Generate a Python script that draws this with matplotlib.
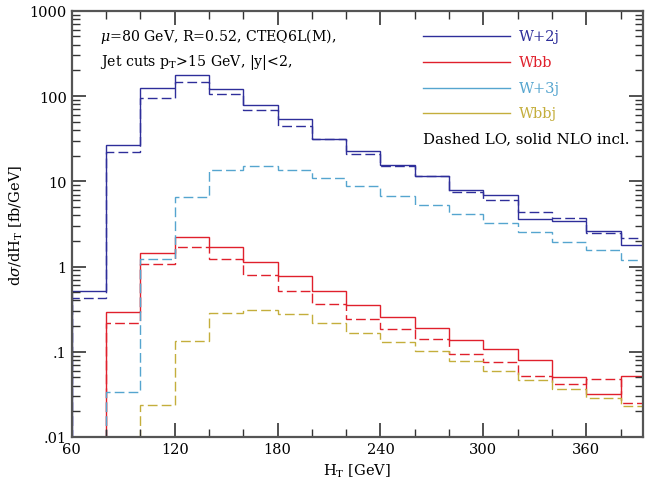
import numpy as np
import matplotlib
matplotlib.use('Agg')
import matplotlib.pyplot as plt
from matplotlib.ticker import FixedLocator, FixedFormatter, MultipleLocator, LogLocator, NullFormatter

plt.rcParams['font.family'] = ['DejaVu Serif']
plt.rcParams['mathtext.fontset'] = 'dejavuserif'

# bin edges (GeV)
edges_w2j = np.arange(60, 401, 20)
edges_wbb = np.arange(80, 401, 20)
edges_w3j = np.arange(80, 401, 20)
edges_wbbj = np.arange(100, 401, 20)

# W+2j  NLO (solid) / LO (dashed)
w2j_nlo = [0.52, 27, 125, 175, 122, 79, 54, 31, 22.7, 15.7, 11.5, 7.9, 7.0, 3.6, 3.4, 2.6, 1.8]
w2j_lo = [0.43, 22, 95, 147, 105, 69, 45, 31, 21, 15.3, 11.6, 7.5, 6.1, 4.4, 3.7, 2.5, 2.15]
# Wbb
wbb_nlo = [0.29, 1.45, 2.2, 1.70, 1.13, 0.77, 0.52, 0.357, 0.256, 0.19, 0.136, 0.109, 0.081, 0.051, 0.032, 0.052]
wbb_lo = [0.22, 1.06, 1.70, 1.21, 0.79, 0.52, 0.36, 0.24, 0.187, 0.141, 0.094, 0.075, 0.052, 0.042, 0.048, 0.025]
# W+3j LO
w3j_lo = [0.034, 1.24, 6.6, 13.6, 15.1, 13.6, 11.0, 8.7, 6.8, 5.3, 4.1, 3.2, 2.55, 1.94, 1.57, 1.18]
# Wbbj LO
wbbj_lo = [0.024, 0.132, 0.285, 0.306, 0.276, 0.218, 0.168, 0.131, 0.103, 0.077, 0.060, 0.047, 0.037, 0.029, 0.023]

labels = ['W+2j', 'Wbb', 'W+3j', 'Wbbj']
colors = ['#2e2e9a', '#e0202c', '#55a5cf', '#c4ae3c']

fig = plt.figure(figsize=(6.52, 4.81), dpi=100)
ax = fig.add_axes([0.110, 0.0894, 0.876, 0.886])

dash = (0, (7, 3))
lw = 1.0
base = 1e-4
ax.stairs(w2j_nlo, edges_w2j, baseline=base, color=colors[0], lw=lw)
ax.stairs(w2j_lo, edges_w2j, baseline=base, color=colors[0], lw=lw, ls=dash)
ax.stairs(wbb_nlo, edges_wbb, baseline=base, color=colors[1], lw=lw)
ax.stairs(wbb_lo, edges_wbb, baseline=base, color=colors[1], lw=lw, ls=dash)
ax.stairs(w3j_lo, edges_w3j, baseline=base, color=colors[2], lw=lw, ls=dash)
ax.stairs(wbbj_lo, edges_wbbj, baseline=base, color=colors[3], lw=lw, ls=dash)

ax.set_yscale('log')
ax.set_xlim(60, 393)
ax.set_ylim(0.01, 1000)

ax.xaxis.set_major_locator(MultipleLocator(60))
ax.xaxis.set_minor_locator(MultipleLocator(20))
ax.yaxis.set_major_locator(FixedLocator([0.01, 0.1, 1, 10, 100, 1000]))
ax.yaxis.set_major_formatter(FixedFormatter(['.01', '.1', '1', '10', '100', '1000']))
ax.yaxis.set_minor_locator(LogLocator(base=10, subs=np.arange(2, 10)))
ax.yaxis.set_minor_formatter(NullFormatter())

ax.tick_params(which='both', direction='in', top=True, right=True, labelsize=10.5, color='#333333')
ax.tick_params(which='major', length=10, width=1.2)
ax.tick_params(which='minor', length=6, width=1.0)
for s in ax.spines.values():
    s.set_linewidth(1.6)
    s.set_color('#555555')

ax.set_xlabel(r'H$_{\mathrm{T}}$ [GeV]', fontsize=10.5)
ax.set_ylabel(r'd$\sigma$/dH$_{\mathrm{T}}$ [fb/GeV]', fontsize=10.5, labelpad=3)

# text
ax.text(0.049, 0.941, r'$\mu$=80 GeV, R=0.52, CTEQ6L(M),', transform=ax.transAxes, fontsize=10.2, va='center')
ax.text(0.049, 0.880, r'Jet cuts p$_{\mathrm{T}}$>15 GeV, |y|<2,', transform=ax.transAxes, fontsize=10.2, va='center')

# legend
ys = [0.941, 0.880, 0.819, 0.761]
for y, lab, c in zip(ys, labels, colors):
    ax.plot([0.615, 0.767], [y, y], color=c, lw=1.0, transform=ax.transAxes)
    ax.text(0.783, y, lab, color=c, transform=ax.transAxes, fontsize=10.5, va='center')
ax.text(0.615, 0.700, 'Dashed LO, solid NLO incl.', transform=ax.transAxes, fontsize=10.8, va='center')

fig.savefig('out.png', dpi=100)
